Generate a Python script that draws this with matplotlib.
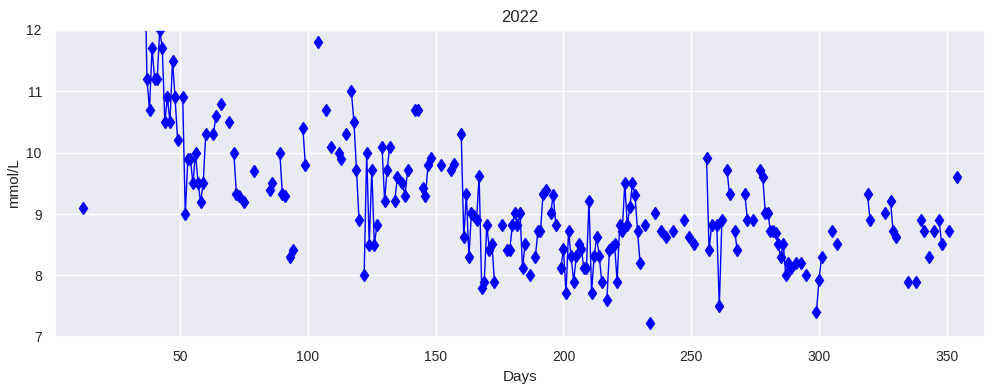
import numpy as np
import matplotlib.pyplot as plt
import seaborn as sns

# daily readings (day of year, mmol/L); days not listed have no reading
days = [12,
        36, 37, 38, 39, 40, 41, 42, 43, 44, 45, 46, 47, 48, 49,
        51, 52, 53, 54, 55, 56, 57, 58, 59, 60, 63, 64, 66, 69,
        71, 72, 73, 75, 79, 85, 86, 89, 90, 91, 93, 94, 98, 99,
        104, 107, 109, 112, 113, 115, 117, 118, 119, 120,
        122, 123, 124, 125, 126, 127, 129, 130, 131, 132, 134, 135,
        137, 138, 139, 142, 143, 145, 146, 147, 148, 152, 156, 157,
        160, 161, 162, 163, 164, 165, 166, 167, 168, 169, 170, 171, 172, 173,
        176, 178, 179, 180, 181, 182, 183, 184, 185, 187,
        189, 190, 191, 192, 193, 195, 196, 197,
        199, 200, 201, 202, 203, 204, 205, 206, 207, 208, 209, 210,
        211, 212, 213, 214, 215,
        217, 218, 219, 220, 221, 222, 223, 224, 225, 226, 227, 228, 229, 230,
        232, 234, 236, 238, 240, 243, 247, 249, 251,
        256, 257, 258, 260, 261, 262, 264, 265, 267, 268, 271, 272, 274,
        277, 278, 279, 280, 281, 282, 283, 284, 285, 286, 287, 288, 289,
        291, 293, 295, 299, 300, 301, 305, 307, 319, 320,
        326, 328, 329, 330, 335, 338, 340, 341, 343, 345, 347, 348, 351, 354]

vals = [9.1,
        13.5, 11.2, 10.7, 11.7, 11.2, 11.2, 12.0, 11.7, 10.5, 10.9, 10.5, 11.5, 10.9, 10.2,
        10.9, 9.0, 9.9, 9.9, 9.5, 10.0, 9.5, 9.2, 9.5, 10.3, 10.3, 10.6, 10.8, 10.5,
        10.0, 9.33, 9.3, 9.2, 9.7, 9.4, 9.5, 10.0, 9.32, 9.3, 8.3, 8.42, 10.4, 9.8,
        11.8, 10.7, 10.1, 10.0, 9.9, 10.3, 11.0, 10.5, 9.72, 8.9,
        8.0, 10.0, 8.5, 9.72, 8.5, 8.82, 10.1, 9.22, 9.72, 10.1, 9.22, 9.6,
        9.5, 9.3, 9.72, 10.7, 10.7, 9.42, 9.3, 9.8, 9.92, 9.8, 9.72, 9.82,
        10.3, 8.62, 9.32, 8.3, 9.02, 8.97, 8.9, 9.62, 7.8, 7.9, 8.82, 8.42, 8.52, 7.9,
        8.82, 8.42, 8.42, 8.82, 9.02, 8.82, 9.02, 8.12, 8.52, 8.0,
        8.3, 8.72, 8.72, 9.32, 9.4, 9.02, 9.31, 8.82,
        8.12, 8.43, 7.72, 8.72, 8.31, 7.9, 8.31, 8.52, 8.43, 8.12, 8.12, 9.22,
        7.72, 8.31, 8.62, 8.31, 7.9,
        7.6, 8.42, 8.47, 8.52, 7.9, 8.82, 8.72, 9.5, 8.82, 9.12, 9.5, 9.31, 8.72, 8.2,
        8.82, 7.22, 9.02, 8.72, 8.62, 8.72, 8.9, 8.62, 8.52,
        9.91, 8.42, 8.82, 8.82, 7.5, 8.9, 9.72, 9.32, 8.72, 8.42, 9.32, 8.9, 8.9,
        9.72, 9.6, 9.02, 9.02, 8.72, 8.72, 8.7, 8.52, 8.3, 8.52, 8.0, 8.2, 8.12,
        8.2, 8.2, 8.0, 7.4, 7.92, 8.3, 8.72, 8.52, 9.32, 8.9,
        9.02, 9.22, 8.72, 8.62, 7.9, 7.9, 8.9, 8.72, 8.3, 8.72, 8.9, 8.52, 8.72, 9.6]

sns.set_theme(style='darkgrid')
plt.rcParams['font.family'] = ['Liberation Sans', 'DejaVu Sans']

x = np.arange(1, 366)
y = np.full(x.shape, np.nan)
y[np.array(days) - 1] = vals

fig, ax = plt.subplots(figsize=(9.94, 3.89), dpi=100)
fig.subplots_adjust(left=0.0553, right=0.991, top=0.923, bottom=0.134)

ax.plot(x, y, color='blue', linewidth=1, marker='d', markersize=6.3)

ax.set_xlim(1, 365)
ax.set_ylim(7, 12)
ax.set_title('2022', fontsize=12)
ax.set_xlabel('Days', fontsize=11)
ax.set_ylabel('mmol/L', fontsize=11)
ax.tick_params(labelsize=10)

fig.savefig('out.png')
